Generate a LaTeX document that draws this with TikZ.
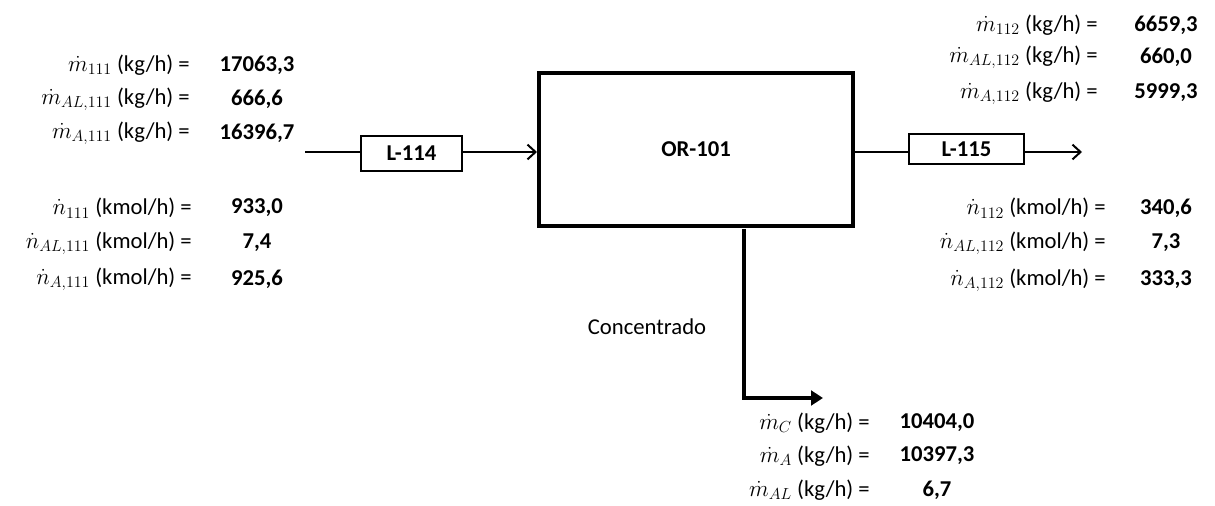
\documentclass[tikz,border=0pt]{standalone}
\usepackage{fontspec}
\setmainfont{Carlito}
\usetikzlibrary{arrows.meta}
\begin{document}
\begin{tikzpicture}[x=0.75pt,y=-0.75pt,
  lab/.style={anchor=east,inner sep=0pt,font=\fontsize{17}{20}\selectfont},
  val/.style={anchor=center,inner sep=0pt,font=\fontsize{17}{20}\selectfont\bfseries},
  thin/.style={line width=1.5pt},
  unit/.style={draw,line width=1.5pt,inner sep=0pt,font=\fontsize{17}{20}\selectfont\bfseries},
  reactor/.style={draw,line width=3pt,minimum width=235.5pt,minimum height=114.75pt,inner sep=0pt,font=\fontsize{17}{20}\selectfont\bfseries}]
\useasboundingbox (0,0) rectangle (1215,506);
% left stream data
\node[lab] (lm1) at (190,65) {$\dot{m}_{111}$ (kg/h) =};
\node[lab] (lm2) at (190,99) {$\dot{m}_{AL,111}$ (kg/h) =};
\node[lab] (lm3) at (190,133) {$\dot{m}_{A,111}$ (kg/h) =};
\node[val] (vm1) at (257,65) {17063,3};
\node[val] (vm2) at (257,99) {666,6};
\node[val] (vm3) at (257,133) {16396,7};
\node[lab] (ln1) at (192,208) {$\dot{n}_{111}$ (kmol/h) =};
\node[lab] (ln2) at (192,243) {$\dot{n}_{AL,111}$ (kmol/h) =};
\node[lab] (ln3) at (192,279) {$\dot{n}_{A,111}$ (kmol/h) =};
\node[val] (vn1) at (257,208) {933,0};
\node[val] (vn2) at (257,243) {7,4};
\node[val] (vn3) at (257,279) {925,6};
% right stream data
\node[lab] (rm1) at (1098,25) {$\dot{m}_{112}$ (kg/h) =};
\node[lab] (rm2) at (1098,57) {$\dot{m}_{AL,112}$ (kg/h) =};
\node[lab] (rm3) at (1098,93) {$\dot{m}_{A,112}$ (kg/h) =};
\node[val] (wm1) at (1166,25) {6659,3};
\node[val] (wm2) at (1166,57) {660,0};
\node[val] (wm3) at (1166,93) {5999,3};
\node[lab] (rn1) at (1106,208) {$\dot{n}_{112}$ (kmol/h) =};
\node[lab] (rn2) at (1106,243) {$\dot{n}_{AL,112}$ (kmol/h) =};
\node[lab] (rn3) at (1106,280) {$\dot{n}_{A,112}$ (kmol/h) =};
\node[val] (wn1) at (1166,208) {340,6};
\node[val] (wn2) at (1166,243) {7,3};
\node[val] (wn3) at (1166,280) {333,3};
% bottom stream data
\node[lab] (bm1) at (870,423) {$\dot{m}_{C}$ (kg/h) =};
\node[lab] (bm2) at (870,456) {$\dot{m}_{A}$ (kg/h) =};
\node[lab] (bm3) at (870,490) {$\dot{m}_{AL}$ (kg/h) =};
\node[val] (bv1) at (937,423) {10404,0};
\node[val] (bv2) at (937,456) {10397,3};
\node[val] (bv3) at (937,490) {6,7};
% equipment
\node[reactor] (or) at (696,149.5) {OR-101};
\node[unit,minimum width=75.75pt,minimum height=26.25pt] (l114) at (411.5,153.5) {L-114};
\node[unit,minimum width=86.25pt,minimum height=22.5pt] (l115) at (966.5,149) {L-115};
\node[anchor=center,inner sep=0pt,font=\fontsize{17}{20}\selectfont] (conc) at (647,327) {Concentrado};
% connectors
\coordinate (in0) at (305,152);
\coordinate (out1) at (1082,152);
\coordinate (bot0) at (744,229);
\coordinate (corner) at (744,398);
\coordinate (bot1) at (823,398);
\draw[thin] (in0) -- (l114.west |- in0);
\draw[thin,-{Straight Barb[length=6pt,width=11pt,line width=1.5pt]}] (l114.east |- in0) -- (or.west |- in0);
\draw[thin] (or.east |- out1) -- (l115.west |- out1);
\draw[thin,-{Straight Barb[length=6pt,width=11pt,line width=1.5pt]}] (l115.east |- out1) -- (out1);
\draw[line width=3pt,-{Triangle[length=9pt,width=11pt]}] (bot0) -- (corner) -- (bot1);
\end{tikzpicture}
\end{document}
